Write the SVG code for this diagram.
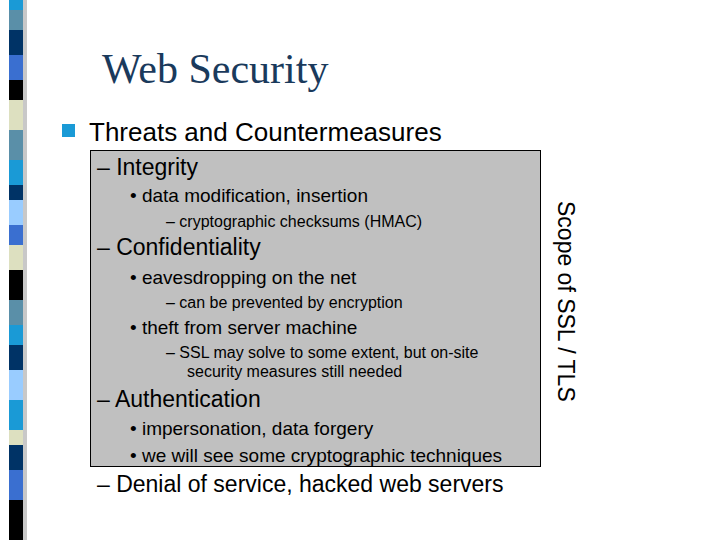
<svg xmlns="http://www.w3.org/2000/svg" width="720" height="540" viewBox="0 0 720 540">
<style>
.s{font-family:"Liberation Sans",Arial,sans-serif;fill:#000}
</style>
<rect width="720" height="540" fill="#fff"/>
<g id="stripe">
<rect x="23" y="0" width="4" height="540" fill="#c8c8c8"/>
<rect x="9" y="0" width="14" height="10" fill="#1a9ad6"/>
<rect x="9" y="10" width="14" height="20" fill="#5a8fa8"/>
<rect x="9" y="30" width="14" height="25" fill="#003366"/>
<rect x="9" y="55" width="14" height="25" fill="#3a6fd0"/>
<rect x="9" y="80" width="14" height="20" fill="#000"/>
<rect x="9" y="100" width="14" height="30" fill="#dde0c0"/>
<rect x="9" y="130" width="14" height="30" fill="#5a8fa8"/>
<rect x="9" y="160" width="14" height="25" fill="#1a9ad6"/>
<rect x="9" y="185" width="14" height="15" fill="#003366"/>
<rect x="9" y="200" width="14" height="25" fill="#99ccff"/>
<rect x="9" y="225" width="14" height="20" fill="#3a6fd0"/>
<rect x="9" y="245" width="14" height="25" fill="#dde0c0"/>
<rect x="9" y="270" width="14" height="30" fill="#000"/>
<rect x="9" y="300" width="14" height="25" fill="#5a8fa8"/>
<rect x="9" y="325" width="14" height="20" fill="#1a9ad6"/>
<rect x="9" y="345" width="14" height="25" fill="#003366"/>
<rect x="9" y="370" width="14" height="30" fill="#99ccff"/>
<rect x="9" y="400" width="14" height="30" fill="#1a9ad6"/>
<rect x="9" y="430" width="14" height="15" fill="#dde0c0"/>
<rect x="9" y="445" width="14" height="25" fill="#003366"/>
<rect x="9" y="470" width="14" height="30" fill="#3a6fd0"/>
<rect x="9" y="500" width="14" height="40" fill="#000"/>
</g>
<text x="102" y="83" font-family="Liberation Serif,serif" font-size="42" fill="#1a3a5c">Web Security</text>
<rect x="62" y="124" width="13" height="13" fill="#1a9ad6"/>
<text class="s" x="89" y="141" font-size="26">Threats and Countermeasures</text>
<g id="box">
<rect x="90.5" y="150.5" width="450" height="316" fill="#c0c0c0" stroke="#000" stroke-width="1"/>
<text class="s" x="97" y="175" font-size="23">– Integrity</text>
<text class="s" x="130" y="202" font-size="19">• data modification, insertion</text>
<text class="s" x="166" y="227" font-size="16">– cryptographic checksums (HMAC)</text>
<text class="s" x="97" y="255" font-size="23">– Confidentiality</text>
<text class="s" x="130" y="284" font-size="19">• eavesdropping on the net</text>
<text class="s" x="166" y="308" font-size="16">– can be prevented by encryption</text>
<text class="s" x="130" y="334" font-size="19">• theft from server machine</text>
<text class="s" x="166" y="358" font-size="16">– SSL may solve to some extent, but on-site</text>
<text class="s" x="187" y="377" font-size="16">security measures still needed</text>
<text class="s" x="97" y="407" font-size="23">– Authentication</text>
<text class="s" x="130" y="435" font-size="19">• impersonation, data forgery</text>
<text class="s" x="130" y="462" font-size="19">• we will see some cryptographic techniques</text>
</g>
<text class="s" x="97" y="492" font-size="23">– Denial of service, hacked web servers</text>
<text class="s" transform="translate(558,201) rotate(90)" font-size="23">Scope of SSL / TLS</text>
</svg>
